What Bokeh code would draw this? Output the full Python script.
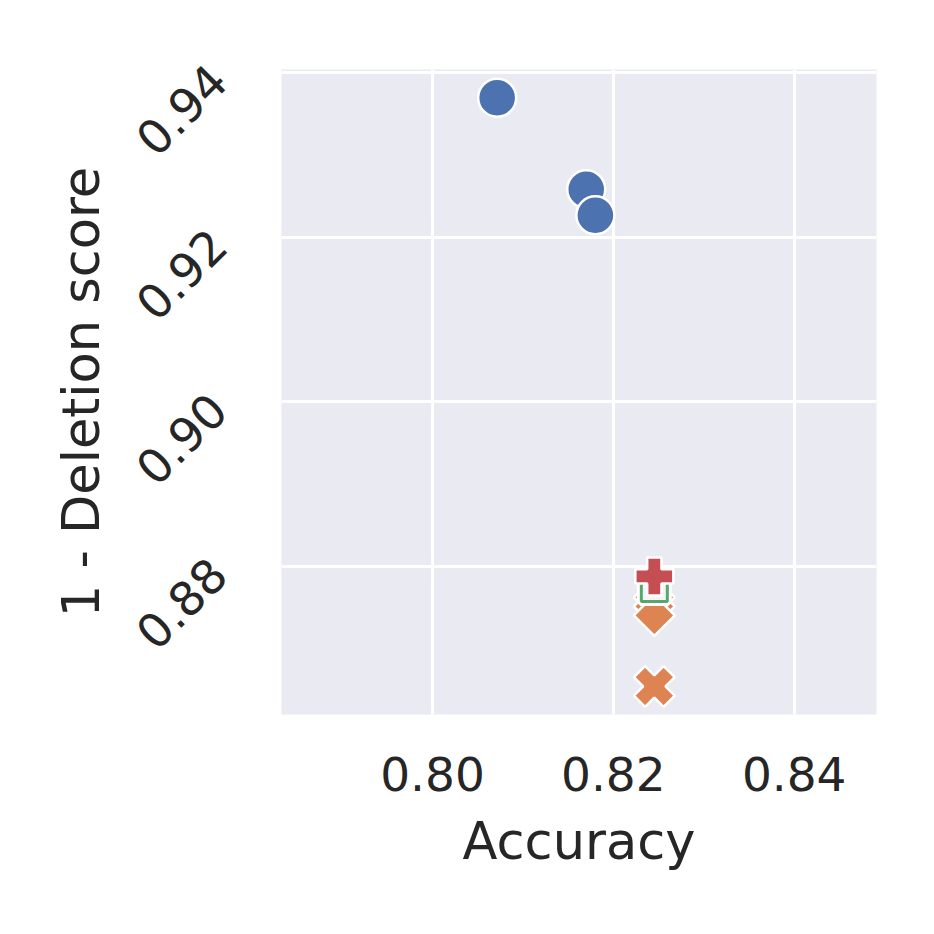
import math
from bokeh.plotting import figure
from bokeh.models import Range1d, FixedTicker
from bokeh.embed import file_html
from bokeh.resources import INLINE

# ---- data ----
x_ticks = [0.80, 0.82, 0.84]
x_tick_labels = ["0.80", "0.82", "0.84"]
y_ticks = [0.88, 0.90, 0.92, 0.94]
y_tick_labels = ["0.88", "0.90", "0.92", "0.94"]

circle_acc = [0.80715, 0.81700, 0.81801]
circle_del = [0.93696, 0.92584, 0.92268]

diamond_acc = [0.82453, 0.82453, 0.82453]
diamond_del = [0.87623, 0.87514, 0.87404]

xmark_acc = [0.82453]
xmark_del = [0.86541]

square_acc = [0.82453]
square_del = [0.87733]

plus_acc = [0.82453]
plus_del = [0.87878]

BLUE = "#4c72b0"
ORANGE = "#dd8452"
GREEN = "#55a868"
RED = "#c44e52"
TEXT = "#262626"
FONT = "DejaVu Sans"

p = figure(width=918, height=918, output_backend="svg", toolbar_location=None,
           x_range=Range1d(0.7833, 0.8491), y_range=Range1d(0.8620, 0.9404),
           min_border_left=281, min_border_right=42, min_border_top=69,
           min_border_bottom=204)

p.background_fill_color = "#eaeaf2"
p.border_fill_color = "white"
p.outline_line_color = None

for g in (p.xgrid, p.ygrid):
    g.grid_line_color = "white"
    g.grid_line_width = 3

p.xaxis.ticker = FixedTicker(ticks=x_ticks)
p.yaxis.ticker = FixedTicker(ticks=y_ticks)
p.xaxis.major_label_overrides = dict(zip(x_ticks, x_tick_labels))
p.yaxis.major_label_overrides = dict(zip(y_ticks, y_tick_labels))

for ax in (p.xaxis, p.yaxis):
    ax.axis_line_color = None
    ax.major_tick_line_color = None
    ax.minor_tick_line_color = None
    ax.major_label_text_font = FONT
    ax.major_label_text_font_size = "47px"
    ax.major_label_text_color = TEXT
    ax.axis_label_text_font = FONT
    ax.axis_label_text_font_size = "51px"
    ax.axis_label_text_color = TEXT
    ax.axis_label_text_font_style = "normal"

p.xaxis.axis_label = "Accuracy"
p.yaxis.axis_label = "1 - Deletion score"
p.xaxis.major_label_standoff = 36
p.xaxis.axis_label_standoff = 18
p.yaxis.major_label_orientation = math.pi / 4
p.yaxis.major_label_standoff = 57
p.yaxis.axis_label_standoff = 6

p.scatter(circle_acc, circle_del, marker="circle", size=38,
          fill_color=BLUE, line_color="white", line_width=2.5)

p.scatter(diamond_acc, diamond_del, marker="square", angle=math.pi / 4, size=29,
          fill_color=ORANGE, line_color="white", line_width=2.5)

p.scatter(xmark_acc, xmark_del, marker="plus", angle=math.pi / 4, size=42,
          fill_color=ORANGE, line_color="white", line_width=2.5)

p.scatter(square_acc, square_del, marker="square", size=28,
          fill_color="white", line_color="white", line_width=7)
p.scatter(square_acc, square_del, marker="square", size=26,
          fill_color="#f4f4f8", line_color=GREEN, line_width=3)

p.scatter(plus_acc, plus_del, marker="plus", size=38,
          fill_color=RED, line_color="white", line_width=2.5)

open("out.html", "w").write(file_html(p, INLINE))
